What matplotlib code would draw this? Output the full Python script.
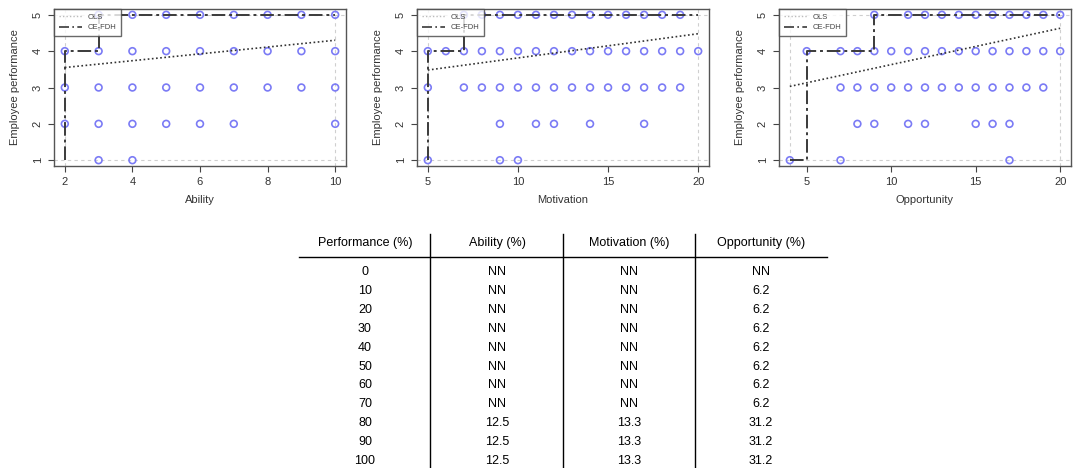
import numpy as np
import matplotlib.pyplot as plt
from matplotlib.lines import Line2D

plt.rcParams['font.family'] = ['Liberation Sans', 'DejaVu Sans']

# scatter data (x value, performance)
ability_x = [3, 4, 5, 6, 7, 8, 9, 10,
             2, 3, 4, 5, 6, 7, 8, 9, 10,
             2, 3, 4, 5, 6, 7, 8, 9, 10,
             2, 3, 4, 5, 6, 7, 10,
             3, 4]
ability_y = [5] * 8 + [4] * 9 + [3] * 9 + [2] * 7 + [1] * 2

motivation_x = [7, 8, 9, 10, 11, 12, 13, 14, 15, 16, 17, 18, 19,
                5, 6, 7, 8, 9, 10, 11, 12, 13, 14, 15, 16, 17, 18, 19, 20,
                5, 7, 8, 9, 10, 11, 12, 13, 14, 15, 16, 17, 18, 19,
                9, 11, 12, 14, 17,
                5, 9, 10]
motivation_y = [5] * 13 + [4] * 16 + [3] * 14 + [2] * 5 + [1] * 3

opportunity_x = [9, 11, 12, 13, 14, 15, 16, 17, 18, 19, 20,
                 5, 7, 8, 9, 10, 11, 12, 13, 14, 15, 16, 17, 18, 19, 20,
                 7, 8, 9, 10, 11, 12, 13, 14, 15, 16, 17, 18, 19,
                 8, 9, 11, 12, 15, 16, 17,
                 4, 7, 17]
opportunity_y = [5] * 11 + [4] * 15 + [3] * 13 + [2] * 7 + [1] * 3

# CE-FDH step ceilings
ability_ce_x = [2, 2, 3, 3, 10]
ability_ce_y = [1, 4, 4, 5, 5]
motivation_ce_x = [5, 5, 7, 7, 20]
motivation_ce_y = [1, 4, 4, 5, 5]
opportunity_ce_x = [4, 5, 5, 9, 9, 20]
opportunity_ce_y = [1, 1, 4, 4, 5, 5]

# OLS line end points
ability_ols = [(2, 3.55), (10, 4.3)]
motivation_ols = [(5, 3.48), (20, 4.48)]
opportunity_ols = [(4, 3.03), (20, 4.63)]

x_ticks = [[2, 4, 6, 8, 10], [5, 10, 15, 20], [5, 10, 15, 20]]
x_labels = ['Ability', 'Motivation', 'Opportunity']

# bottleneck table
tbl_header = ['Performance (%)', 'Ability (%)', 'Motivation (%)', 'Opportunity (%)']
tbl_perf = ['0', '10', '20', '30', '40', '50', '60', '70', '80', '90', '100']
tbl_ability = ['NN'] * 8 + ['12.5'] * 3
tbl_motivation = ['NN'] * 8 + ['13.3'] * 3
tbl_opportunity = ['NN'] + ['6.2'] * 7 + ['31.2'] * 3

W, H = 1074, 468
fig = plt.figure(figsize=(W / 100, H / 100), dpi=100)

boxes = [(54, 9, 346, 166), (417, 9, 709, 166), (779, 9, 1071, 166)]
panels = [
    (ability_x, ability_y, ability_ce_x, ability_ce_y, ability_ols),
    (motivation_x, motivation_y, motivation_ce_x, motivation_ce_y, motivation_ols),
    (opportunity_x, opportunity_y, opportunity_ce_x, opportunity_ce_y, opportunity_ols),
]

for i, (box, (px, py, cx, cy, ols)) in enumerate(zip(boxes, panels)):
    l, t, r, b = box
    ax = fig.add_axes([l / W, 1 - b / H, (r - l) / W, (b - t) / H])
    xmin, xmax = min(px), max(px)
    pad = (xmax - xmin) * 0.04
    ax.set_xlim(xmin - pad, xmax + pad)
    ax.set_ylim(1 - 0.16, 5 + 0.16)

    # scope lines
    for v in (xmin, xmax):
        ax.axvline(v, color='#cfcfcf', lw=0.8, ls=(0, (3, 3)), zorder=1)
    for v in (1, 5):
        ax.axhline(v, color='#cfcfcf', lw=0.8, ls=(0, (3, 3)), zorder=1)

    ax.scatter(px, py, s=24, facecolors='none', edgecolors='#7b7bf5',
               linewidths=1.2, zorder=3)
    ax.plot(cx, cy, color='#3a3a3a', lw=1.4, ls=(0, (7, 2, 1.5, 2)), zorder=4)
    (x0, y0), (x1, y1) = ols
    ax.plot([x0, x1], [y0, y1], color='#333333', lw=1.2, ls=(0, (1, 1.5)), zorder=4)

    ax.set_xticks(x_ticks[i])
    ax.set_yticks([1, 2, 3, 4, 5])
    ax.tick_params(labelsize=8, length=4, width=0.8, color='#444444', pad=4,
                   labelcolor='#333333')
    for lab in ax.get_yticklabels():
        lab.set_rotation(90)
        lab.set_va('center')
    for s in ax.spines.values():
        s.set_color('#555555')
        s.set_linewidth(1.0)
    ax.set_xlabel(x_labels[i], fontsize=8, color='#333333', labelpad=6)
    ax.set_ylabel('Employee performance', fontsize=8, color='#333333', labelpad=9)

    handles = [Line2D([], [], color='#bbbbbb', lw=1, ls=(0, (1, 1.5))),
               Line2D([], [], color='#3a3a3a', lw=1.2, ls=(0, (6, 2, 1, 2)))]
    leg = ax.legend(handles, ['OLS', 'CE-FDH'], loc='upper left', fontsize=5.5,
                    borderaxespad=0, frameon=True, fancybox=False,
                    handlelength=3.0, labelcolor='#444444', borderpad=0.6,
                    labelspacing=0.4)
    leg.get_frame().set_edgecolor('#444444')
    leg.get_frame().set_linewidth(1.0)

# table drawn in figure pixel coordinates
col_centers = [365, 497, 629, 761]
col_lines = [430, 563, 695]
header_y = 243
row_y0, row_step = 272, 18.9

for cxp, h in zip(col_centers, tbl_header):
    fig.text(cxp / W, 1 - header_y / H, h, ha='center', va='center', fontsize=9)
fig.add_artist(Line2D([299 / W, 827 / W], [1 - 257 / H] * 2, color='black', lw=1))
for xl in col_lines:
    fig.add_artist(Line2D([xl / W] * 2, [1 - 234 / H, 0], color='black', lw=1))

columns = [tbl_perf, tbl_ability, tbl_motivation, tbl_opportunity]
for cxp, col in zip(col_centers, columns):
    for j, val in enumerate(col):
        fig.text(cxp / W, 1 - (row_y0 + j * row_step) / H, val,
                 ha='center', va='center', fontsize=9)

fig.savefig('out.png', dpi=100)
